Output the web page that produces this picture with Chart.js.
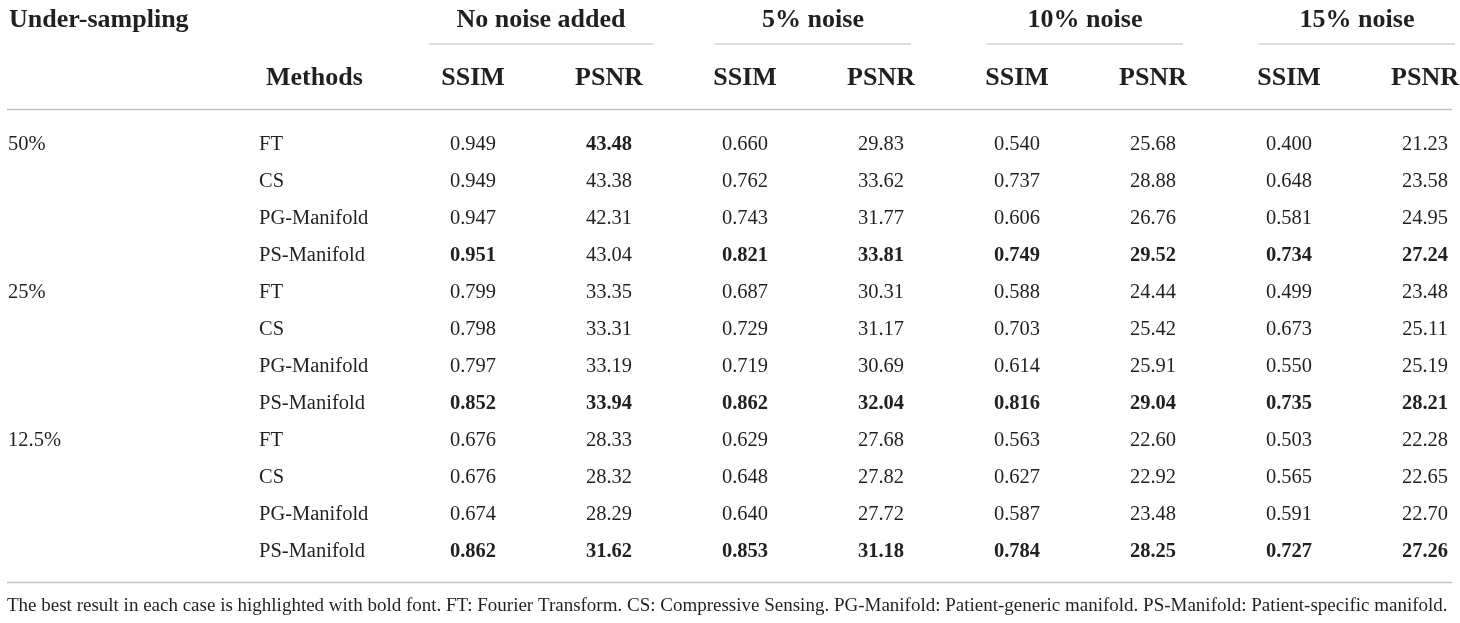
<!DOCTYPE html>
<html>
<head>
<meta charset="utf-8">
<script src="https://cdn.jsdelivr.net/npm/chart.js@4"></script>
<style>
  html, body { margin: 0; padding: 0; background: #fff; }
  #wrap { position: relative; width: 1460px; height: 623px; }
</style>
</head>
<body>
<div id="wrap"><canvas id="tbl"></canvas></div>
<script>
// =========================
// data
// =========================
const samplingRates = ["50%", "25%", "12.5%"];
const methods = ["FT", "CS", "PG-Manifold", "PS-Manifold"];
const noiseLevels = ["No noise added", "5% noise", "10% noise", "15% noise"];
const metrics = ["SSIM", "PSNR"];

// rows: 50% (FT, CS, PG, PS), 25% (...), 12.5% (...)
const ssimNoNoise = [0.949, 0.949, 0.947, 0.951, 0.799, 0.798, 0.797, 0.852, 0.676, 0.676, 0.674, 0.862];
const psnrNoNoise = [43.48, 43.38, 42.31, 43.04, 33.35, 33.31, 33.19, 33.94, 28.33, 28.32, 28.29, 31.62];
const ssimNoise5 = [0.660, 0.762, 0.743, 0.821, 0.687, 0.729, 0.719, 0.862, 0.629, 0.648, 0.640, 0.853];
const psnrNoise5 = [29.83, 33.62, 31.77, 33.81, 30.31, 31.17, 30.69, 32.04, 27.68, 27.82, 27.72, 31.18];
const ssimNoise10 = [0.540, 0.737, 0.606, 0.749, 0.588, 0.703, 0.614, 0.816, 0.563, 0.627, 0.587, 0.784];
const psnrNoise10 = [25.68, 28.88, 26.76, 29.52, 24.44, 25.42, 25.91, 29.04, 22.60, 22.92, 23.48, 28.25];
const ssimNoise15 = [0.400, 0.648, 0.581, 0.734, 0.499, 0.673, 0.550, 0.735, 0.503, 0.565, 0.591, 0.727];
const psnrNoise15 = [21.23, 23.58, 24.95, 27.24, 23.48, 25.11, 25.19, 28.21, 22.28, 22.65, 22.70, 27.26];

const columns = [ssimNoNoise, psnrNoNoise, ssimNoise5, psnrNoise5, ssimNoise10, psnrNoise10, ssimNoise15, psnrNoise15];

const footnote = "The best result in each case is highlighted with bold font. FT: Fourier Transform. CS: Compressive Sensing. PG-Manifold: Patient-generic manifold. PS-Manifold: Patient-specific manifold.";

// =========================
// scale labels
// =========================
const colKeys = [];
noiseLevels.forEach((n, g) => metrics.forEach((m) => colKeys.push(g + "|" + m)));
const rowKeys = [];
samplingRates.forEach((r) => methods.forEach((m) => rowKeys.push(r + "|" + m)));

const INK = "#231f20";
const RULE = "#c4c4c4";
const SERIF = "'Liberation Serif', 'DejaVu Serif', serif";
const CELL_FONT = "20.5px " + SERIF;
const HEAD_FONT = "bold 26px " + SERIF;
const groupRuleHalf = [112, 98, 98, 98];

// bold = best of the 4 methods in each block
function isBest(col, row) {
  const start = Math.floor(row / methods.length) * methods.length;
  const block = columns[col].slice(start, start + methods.length);
  return columns[col][row] === Math.max(...block);
}

const datasets = columns.map((vals, c) => ({
  label: colKeys[c],
  data: vals.map((v, r) => ({ x: colKeys[c], y: rowKeys[r], v, col: c, row: r })),
  pointRadius: 0,
  showLine: false,
}));

// =========================
// plugin: cells, headers, rules
// =========================
const tablePlugin = {
  id: "tablePlugin",
  afterDatasetsDraw(chart) {
    const ctx = chart.ctx;
    const xs = chart.scales.x;
    const ys = chart.scales.y;
    ctx.save();
    ctx.fillStyle = INK;
    ctx.textBaseline = "middle";

    // numbers
    ctx.textAlign = "center";
    chart.data.datasets.forEach((ds, di) => {
      const meta = chart.getDatasetMeta(di);
      meta.data.forEach((pt, i) => {
        const d = ds.data[i];
        const txt = d.v.toFixed(metrics[d.col % 2] === "SSIM" ? 3 : 2);
        ctx.font = (isBest(d.col, d.row) ? "bold " : "") + CELL_FONT;
        ctx.fillText(txt, pt.x, pt.y);
      });
    });

    // sampling rate labels
    ctx.textAlign = "left";
    ctx.font = CELL_FONT;
    samplingRates.forEach((r, i) => {
      ctx.fillText(r, 8, ys.getPixelForValue(i * methods.length));
    });

    // headers
    ctx.font = HEAD_FONT;
    ctx.fillText("Under-sampling", 9, 20);
    ctx.fillText("Methods", 266, 78);
    ctx.textAlign = "center";
    noiseLevels.forEach((n, g) => {
      const mid = (xs.getPixelForValue(g * 2) + xs.getPixelForValue(g * 2 + 1)) / 2;
      ctx.fillText(n, mid, 20);
      ctx.strokeStyle = "#d0d0d0";
      ctx.lineWidth = 1.5;
      ctx.beginPath();
      ctx.moveTo(mid - groupRuleHalf[g], 44);
      ctx.lineTo(mid + groupRuleHalf[g], 44);
      ctx.stroke();
    });

    // rules
    ctx.strokeStyle = RULE;
    ctx.lineWidth = 1.5;
    [109.5, 582.5].forEach((y) => {
      ctx.beginPath();
      ctx.moveTo(7, y);
      ctx.lineTo(1452, y);
      ctx.stroke();
    });

    // footnote
    ctx.textAlign = "left";
    ctx.font = "19px " + SERIF;
    ctx.fillText(footnote, 7, 606);
    ctx.restore();
  },
};

new Chart(document.getElementById("tbl"), {
  type: "scatter",
  data: { datasets },
  plugins: [tablePlugin],
  options: {
    responsive: true,
    maintainAspectRatio: false,
    animation: false,
    events: [],
    layout: { padding: { left: 259, right: 35, top: 0, bottom: 71.5 } },
    plugins: { legend: { display: false }, tooltip: { enabled: false } },
    scales: {
      x: {
        type: "category",
        position: "top",
        labels: colKeys,
        offset: false,
        grid: { display: false, drawTicks: false },
        border: { display: false },
        ticks: {
          autoSkip: false,
          maxRotation: 0,
          padding: 51.4,
          color: INK,
          font: { family: SERIF, size: 26, weight: "bold" },
          callback: (v, i) => colKeys[i].split("|")[1],
        },
        afterFit: (s) => { s.height = 145; s.paddingLeft = 0; s.paddingRight = 0; },
      },
      y: {
        type: "category",
        labels: rowKeys,
        offset: false,
        grid: { display: false, drawTicks: false },
        border: { display: false },
        ticks: {
          autoSkip: false,
          crossAlign: "far",
          color: INK,
          font: { family: SERIF, size: 20.5 },
          callback: (v, i) => rowKeys[i].split("|")[1],
        },
        afterFit: (s) => { s.width = 214; s.paddingTop = 0; s.paddingBottom = 0; },
      },
    },
  },
});
</script>
</body>
</html>
